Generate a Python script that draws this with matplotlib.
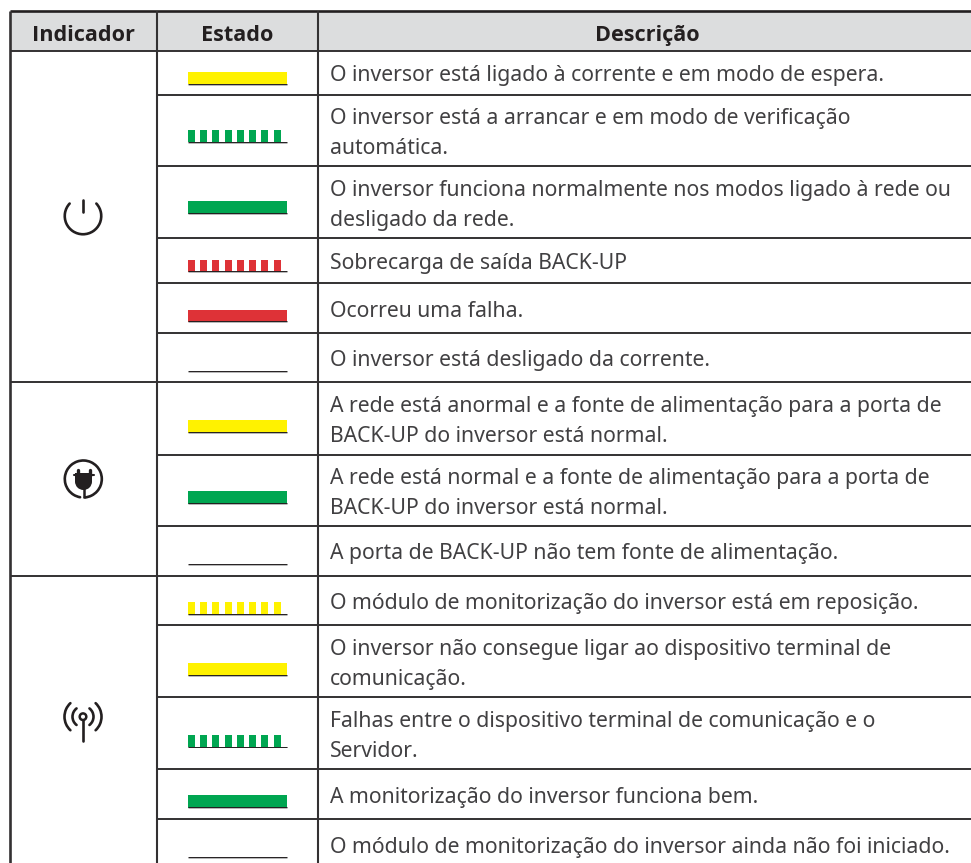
#!/usr/bin/env python3
"""Tabela de indicadores LED do inversor"""

import matplotlib
matplotlib.use("Agg")
import matplotlib.pyplot as plt
from matplotlib.patches import Arc, Circle, Rectangle

plt.rcParams["font.family"] = ["Noto Sans", "DejaVu Sans"]

headers = ["Indicador", "Estado", "Descrição"]

# cor da barra por linha, modo: solid / blink / off
state_colors = ["yellow", "green", "green", "red", "red", "none",
                "yellow", "green", "none",
                "yellow", "yellow", "green", "green", "none"]
state_modes = ["solid", "blink", "solid", "blink", "solid", "off",
               "solid", "solid", "off",
               "blink", "solid", "blink", "solid", "off"]
descriptions = [
    "O inversor está ligado à corrente e em modo de espera.",
    "O inversor está a arrancar e em modo de verificação\nautomática.",
    "O inversor funciona normalmente nos modos ligado à rede ou\ndesligado da rede.",
    "Sobrecarga de saída BACK-UP",
    "Ocorreu uma falha.",
    "O inversor está desligado da corrente.",
    "A rede está anormal e a fonte de alimentação para a porta de\nBACK-UP do inversor está normal.",
    "A rede está normal e a fonte de alimentação para a porta de\nBACK-UP do inversor está normal.",
    "A porta de BACK-UP não tem fonte de alimentação.",
    "O módulo de monitorização do inversor está em reposição.",
    "O inversor não consegue ligar ao dispositivo terminal de\ncomunicação.",
    "Falhas entre o dispositivo terminal de comunicação e o\nServidor.",
    "A monitorização do inversor funciona bem.",
    "O módulo de monitorização do inversor ainda não foi iniciado.",
]

# layout em pixels
ROW_LINES = [51, 95, 166, 238.5, 283, 333, 382.5, 454.5, 525.5, 575.5, 625, 697, 769, 819, 869]
BAR_BASE = [84, 142, 213, 271.5, 321.5, 371, 432, 503, 564, 614, 675, 746.5, 807, 857]
GROUP_LINES = [51, 382.5, 575.5]
DASH_STARTS = [188, 200, 212, 225, 237, 249, 261, 274]
X_LEFT, X_COL2, X_COL3, X_RIGHT = 10, 156.5, 317.5, 971
Y_TOP = 11.5
COLORS = {"yellow": "#fff200", "green": "#00a651", "red": "#de3237"}
INK = "#231f20"
TEXT = "#414042"

fig = plt.figure(figsize=(9.71, 8.63), dpi=100)
ax = fig.add_axes([0, 0, 1, 1])
ax.set_xlim(0, 971)
ax.set_ylim(863, 0)
ax.axis("off")

# 表头
ax.add_patch(Rectangle((X_LEFT, Y_TOP), X_RIGHT - X_LEFT, 51 - Y_TOP, color="#dcddde", lw=0))
for label, cx in zip(headers, [83, 237, 647]):
    ax.text(cx, 33, label, ha="center", va="center_baseline", fontsize=15.6,
            fontweight="bold", family=["Open Sans", "DejaVu Sans"], color=INK)

# 线
ax.plot([X_LEFT, X_RIGHT], [Y_TOP, Y_TOP], color=INK, lw=1.9, solid_capstyle="butt")
ax.plot([X_LEFT, X_LEFT], [Y_TOP, 863], color="#333132", lw=1.9, solid_capstyle="butt")
for x in [X_COL2, X_COL3]:
    ax.plot([x, x], [Y_TOP, 863], color="#333132", lw=1.5, solid_capstyle="butt")
for y in ROW_LINES[:-1]:
    x0 = X_LEFT if y in GROUP_LINES else X_COL2
    ax.plot([x0, X_RIGHT], [y, y], color="#333132", lw=1.4, solid_capstyle="butt")

# 状态 + 描述
tops = ROW_LINES[:-1]
bottoms = ROW_LINES[1:]
for i, text in enumerate(descriptions):
    base = BAR_BASE[i]
    color = COLORS.get(state_colors[i])
    if state_modes[i] == "solid":
        ax.add_patch(Rectangle((188, base - 12), 99, 12.5, color=color, lw=0))
    elif state_modes[i] == "blink":
        for x in DASH_STARTS:
            ax.add_patch(Rectangle((x, base - 12), 7, 12.5, color=color, lw=0))
    ax.plot([188, 286.5], [base + 0.6, base + 0.6], color="#b5b5b6", lw=0.7, solid_capstyle="butt")
    ax.plot([188, 286.5], [base, base], color=INK, lw=0.7, solid_capstyle="butt")

    center = (tops[i] + bottoms[i]) / 2
    lines = text.split("\n")
    for j, line in enumerate(lines):
        y = center + (j - (len(lines) - 1) / 2) * 30 + 0.5
        ax.text(330, y, line, ha="left", va="center_baseline", fontsize=15.25, color=TEXT)

# 图标: 电源
stroke = dict(color=INK, lw=1.9, capstyle="round")
ax.add_patch(Arc((83, 216), 36.5, 36.5, theta1=-43, theta2=223, **stroke))
ax.plot([83, 83], [200, 212], color=INK, lw=1.9, solid_capstyle="round")

# 图标: 插头
ax.add_patch(Arc((83.3, 479), 37, 37, theta1=100, theta2=85, **stroke))
ax.add_patch(Rectangle((75, 473), 17, 9, color=INK, lw=0))
ax.add_patch(Circle((83.5, 481.5), 8.5, color=INK, lw=0))
ax.plot([73.5, 93.5], [475, 475], color=INK, lw=1.5, solid_capstyle="round")
for x in [77.5, 89.5]:
    ax.plot([x, x], [469.5, 476], color=INK, lw=2.4, solid_capstyle="round")
ax.plot([83.5, 83.5], [488, 498], color=INK, lw=1.8, solid_capstyle="butt")

# 图标: 天线
ax.add_patch(Circle((83, 716.7), 3.3, fill=False, ec=INK, lw=1.8))
ax.plot([83, 83], [720, 741], color=INK, lw=1.9, solid_capstyle="round")
for r, span in [(10.5, 52), (18.5, 47)]:
    ax.add_patch(Arc((83, 716.7), 2 * r, 2 * r, theta1=-span, theta2=span, **stroke))
    ax.add_patch(Arc((83, 716.7), 2 * r, 2 * r, theta1=180 - span, theta2=180 + span, **stroke))

fig.savefig("out.png", dpi=100, facecolor="white")
plt.close(fig)
